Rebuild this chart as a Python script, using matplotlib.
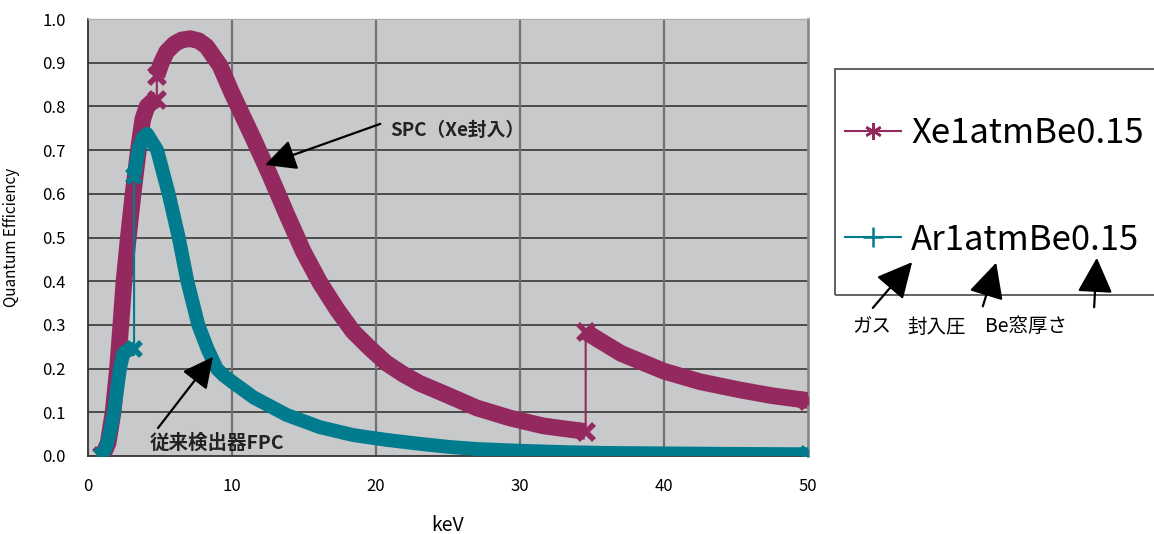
import numpy as np
import matplotlib
matplotlib.use("Agg")
import matplotlib.pyplot as plt
from matplotlib.lines import Line2D
from matplotlib.patches import Rectangle, FancyArrowPatch

plt.rcParams['font.family'] = ['Noto Sans CJK JP', 'DejaVu Sans']

# ---- data ----
xe_kev = [1.0, 1.4, 1.74, 2.05, 2.28, 2.5, 2.8, 3.13, 3.5, 3.8, 4.1, 4.5, 4.78,
          4.78, 5.1, 5.46, 6.0, 6.5, 7.1, 7.7, 8.24, 9.17, 10.0, 11.5, 12.6,
          13.8, 14.95, 16.1, 17.3, 18.4, 19.6, 20.7, 21.9, 23.05, 24.7, 27.0,
          29.3, 31.6, 34.56,
          34.56, 37.0, 40.0, 42.5, 45.3, 47.5, 50.0]
xe_qe = [0.0, 0.03, 0.10, 0.20, 0.30, 0.40, 0.50, 0.60, 0.70, 0.77, 0.80, 0.812, 0.815,
         0.87, 0.90, 0.925, 0.943, 0.952, 0.955, 0.95, 0.937, 0.893, 0.83, 0.725, 0.645,
         0.553, 0.468, 0.397, 0.335, 0.285, 0.246, 0.213, 0.187, 0.166, 0.143, 0.110,
         0.087, 0.069, 0.056,
         0.284, 0.235, 0.194, 0.170, 0.151, 0.138, 0.127]

ar_kev = [1.0, 1.25, 1.5, 1.8, 2.22, 2.45, 2.8, 3.2,
          3.2, 3.5, 3.8, 4.1, 4.8, 5.2, 5.6, 6.3, 6.9, 7.66, 8.3, 8.94, 9.4, 10.0,
          11.5, 13.8, 16.1, 18.4, 20.7, 23.0, 25.0, 27.0, 30.0, 33.0, 36.0, 40.0,
          44.0, 50.0]
ar_qe = [0.0, 0.02, 0.05, 0.10, 0.20, 0.235, 0.243, 0.245,
         0.64, 0.70, 0.728, 0.737, 0.70, 0.65, 0.60, 0.50, 0.40, 0.30, 0.245, 0.20, 0.185, 0.17,
         0.134, 0.094, 0.066, 0.048, 0.037, 0.028, 0.021, 0.016, 0.012, 0.009, 0.007, 0.006,
         0.005, 0.004]

series_labels = ['Xe1atmBe0.15', 'Ar1atmBe0.15']
x_ticks = [0, 10, 20, 30, 40, 50]
y_ticks = [0.0, 0.1, 0.2, 0.3, 0.4, 0.5, 0.6, 0.7, 0.8, 0.9, 1.0]

XE_COLOR = '#93295F'
AR_COLOR = '#007C8E'

W, H = 1154, 534
fig = plt.figure(figsize=(W / 100, H / 100), dpi=100)
ax = fig.add_axes([88 / W, (H - 456) / H, (808 - 88) / W, (456 - 19) / H])
ax.set_facecolor('#C8C9CB')


def draw_series(x, y, color, lw, ms):
    x = np.asarray(x)
    y = np.asarray(y)
    # thin connecting line over the whole series (shows edge jumps)
    ax.plot(x, y, color=color, lw=1.5, zorder=3)
    # thick band for each continuous segment
    breaks = np.where(np.diff(x) == 0)[0] + 1
    for seg_x, seg_y in zip(np.split(x, breaks), np.split(y, breaks)):
        ax.plot(seg_x, seg_y, color=color, lw=lw, solid_capstyle='butt',
                solid_joinstyle='round', zorder=3)
        ax.plot(seg_x[[0, -1]], seg_y[[0, -1]], ls='none', marker='x',
                ms=ms, mew=4, color=color, zorder=3)


draw_series(xe_kev, xe_qe, XE_COLOR, 12, 11)
draw_series(ar_kev, ar_qe, AR_COLOR, 10, 10)

ax.set_xlim(0, 50)
ax.set_ylim(0, 1.0)
ax.set_xticks(x_ticks)
ax.set_yticks(y_ticks)
ax.set_yticklabels([f'{v:.1f}' for v in y_ticks])
ax.tick_params(axis='both', length=0, labelsize=12)
ax.tick_params(axis='x', pad=16)
ax.tick_params(axis='y', pad=16)

for yv in y_ticks[1:-1]:
    ax.axhline(yv, color='#2b2b2b', lw=1.1, zorder=1)
for xv in x_ticks[1:-1]:
    ax.axvline(xv, color='#6f6f6f', lw=1.6, zorder=1)

for side in ['left', 'bottom']:
    ax.spines[side].set_color('#333333')
    ax.spines[side].set_linewidth(1.3)
ax.spines['right'].set_color('#8a8a8a')
ax.spines['right'].set_linewidth(2)
ax.spines['top'].set_color('#b0b0b0')
ax.spines['top'].set_linewidth(1)

ax.set_xlabel('keV', fontsize=14, labelpad=14)
ax.set_ylabel('Quantum Efficiency', fontsize=11, labelpad=16)

arrow_kw = dict(arrowstyle='-|>,head_length=1.0,head_width=0.5', color='black',
                lw=1.6, mutation_scale=19, shrinkA=0, shrinkB=0)

ax.annotate('', xy=(12.3, 0.666), xytext=(20.3, 0.76), arrowprops=arrow_kw, zorder=5)
ax.text(21.0, 0.745, 'SPC（Xe封入）', fontsize=13.5, fontweight='bold',
        va='center', ha='left', color='#222222', zorder=5)

ax.annotate('', xy=(8.68, 0.227), xytext=(4.86, 0.064), arrowprops=arrow_kw, zorder=5)
ax.text(4.3, 0.03, '従来検出器FPC', fontsize=14, fontweight='bold',
        va='center', ha='left', color='#222222', zorder=5)

# legend
fig.add_artist(Rectangle((835 / W, (H - 295) / H), 0.4, (295 - 69) / H,
                         transform=fig.transFigure, fill=False, ec='#555555',
                         lw=1.3, clip_on=False))
handles = [Line2D([], [], color=XE_COLOR, lw=1.5, marker=(6, 2, 0), ms=12, mew=1.8),
           Line2D([], [], color=AR_COLOR, lw=1.5, marker='+', ms=14, mew=1.8)]
fig.legend(handles, series_labels, loc='center left',
           bbox_to_anchor=(845 / W, (H - 187) / H), frameon=False,
           fontsize=25, handlelength=1.6, handletextpad=0.3, labelspacing=2.05,
           borderpad=0, borderaxespad=0)


def fpx(x, y):
    return (x / W, (H - y) / H)


for tail, tip in [((871, 310), (914, 260)), ((982, 309), (997, 260)),
                  ((1094, 310), (1097, 255))]:
    fig.add_artist(FancyArrowPatch(
        fpx(*tail), fpx(*tip), transform=fig.transFigure,
        arrowstyle='-|>,head_length=1.0,head_width=0.5', mutation_scale=22,
        color='black', lw=1.6))

fig.text(*fpx(852, 327), 'ガス', fontsize=14, va='center', ha='left')
fig.text(*fpx(907, 327), '封入圧', fontsize=14, va='center', ha='left')
fig.text(*fpx(985, 327), 'Be窓厚さ', fontsize=14, va='center', ha='left')

fig.savefig('out.png', dpi=100, facecolor='white')
